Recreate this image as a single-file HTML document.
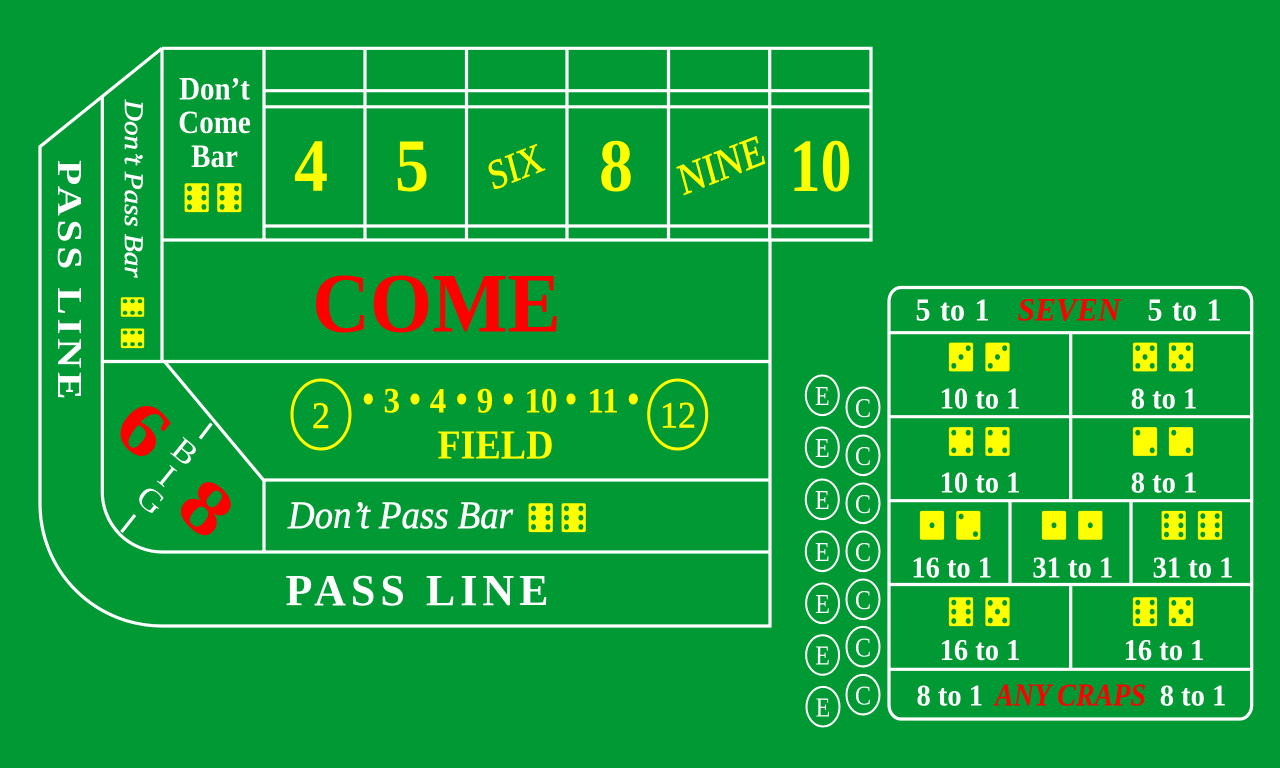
<!DOCTYPE html>
<html lang="en">
<head>
<meta charset="utf-8">
<title>Craps table layout</title>
<style>
html,body{margin:0;padding:0;background:#009933;width:1280px;height:768px;overflow:hidden}
svg{display:block}
text{font-family:"Liberation Serif",serif}
.w{fill:#fff}
.y{fill:#ff0}
.r{fill:#f00}
.b{font-weight:bold}
.i{font-style:italic}
.m{text-anchor:middle}
.sw{stroke:#fff;stroke-width:.5}
.sy{stroke:#ff0;stroke-width:.5}
.ln{fill:none;stroke:#fff;stroke-width:3.2}
.thin{fill:none;stroke:#fff;stroke-width:2}
.odds{font-weight:bold;font-size:28.5px;fill:#fff;text-anchor:middle}
.wide{font-size:30px;word-spacing:2px}
.pip{fill:#009933}
.face{fill:#ff0}
.ec{font-size:24px;fill:#fff;text-anchor:middle}
</style>
</head>
<body>
<svg xmlns="http://www.w3.org/2000/svg" width="1280" height="768" viewBox="0 0 1280 768">
<defs>
<g id="f1"><rect class="face" x="-12.1" y="-14.4" width="24.2" height="28.8" rx="2"/><ellipse class="pip" cx="0" cy="0" rx="2.5" ry="2.9"/></g>
<g id="f2"><rect class="face" x="-12.1" y="-14.4" width="24.2" height="28.8" rx="2"/><ellipse class="pip" cx="-7.2" cy="-8.8" rx="2.5" ry="2.9"/><ellipse class="pip" cx="7.2" cy="8.8" rx="2.5" ry="2.9"/></g>
<g id="f3"><rect class="face" x="-12.1" y="-14.4" width="24.2" height="28.8" rx="2"/><ellipse class="pip" cx="-7.2" cy="8.8" rx="2.5" ry="2.9"/><ellipse class="pip" cx="0" cy="0" rx="2.5" ry="2.9"/><ellipse class="pip" cx="7.2" cy="-8.8" rx="2.5" ry="2.9"/></g>
<g id="f4"><rect class="face" x="-12.1" y="-14.4" width="24.2" height="28.8" rx="2"/><ellipse class="pip" cx="-7.2" cy="-8.8" rx="2.5" ry="2.9"/><ellipse class="pip" cx="7.2" cy="-8.8" rx="2.5" ry="2.9"/><ellipse class="pip" cx="-7.2" cy="8.8" rx="2.5" ry="2.9"/><ellipse class="pip" cx="7.2" cy="8.8" rx="2.5" ry="2.9"/></g>
<g id="f5"><rect class="face" x="-12.1" y="-14.4" width="24.2" height="28.8" rx="2"/><ellipse class="pip" cx="-7.2" cy="-8.8" rx="2.5" ry="2.9"/><ellipse class="pip" cx="7.2" cy="-8.8" rx="2.5" ry="2.9"/><ellipse class="pip" cx="0" cy="0" rx="2.5" ry="2.9"/><ellipse class="pip" cx="-7.2" cy="8.8" rx="2.5" ry="2.9"/><ellipse class="pip" cx="7.2" cy="8.8" rx="2.5" ry="2.9"/></g>
<g id="f6"><rect class="face" x="-12.1" y="-14.4" width="24.2" height="28.8" rx="2"/><ellipse class="pip" cx="-7.2" cy="-9.2" rx="2.5" ry="2.9"/><ellipse class="pip" cx="7.2" cy="-9.2" rx="2.5" ry="2.9"/><ellipse class="pip" cx="-7.2" cy="0" rx="2.5" ry="2.9"/><ellipse class="pip" cx="7.2" cy="0" rx="2.5" ry="2.9"/><ellipse class="pip" cx="-7.2" cy="9.2" rx="2.5" ry="2.9"/><ellipse class="pip" cx="7.2" cy="9.2" rx="2.5" ry="2.9"/></g>
</defs>

<rect x="0" y="0" width="1280" height="768" fill="#009933"/>

<!-- main table lines -->
<g>
<path class="ln" d="M162 48.3H871V240H162M162 48.3V361M162 48.3L40 146.7V504A122 122 0 0 0 162 626H770V240"/>
<path class="ln" d="M102.3 97V492A60 60 0 0 0 162 552H770"/>
<path class="ln" d="M264 48.3V240M365 48.3V240M466.5 48.3V240M567 48.3V240M668.5 48.3V240M769.7 48.3V240"/>
<path class="ln" d="M264 90.7H871M264 106.8H871M264 226H871"/>
<path class="ln" d="M102.3 361.5H770M164.5 361.5L263.5 480H770M264 480V552"/>
<path class="ln" d="M211.5 423.5L200 438.5M135 515L121.5 532"/>
</g>

<!-- Pass line -->
<text class="w b" font-size="35" textLength="203" transform="translate(58,160) scale(1,1.18) rotate(90)">PASS LINE</text>
<text class="w b" font-size="44" textLength="263" transform="translate(285.5,605) scale(1,1)">PASS LINE</text>

<!-- Don't pass side -->
<text class="w i sw" font-size="26" textLength="160" lengthAdjust="spacingAndGlyphs" transform="translate(125,100) scale(1,1.11) rotate(90)">Don’t Pass Bar</text>
<use href="#f6" transform="translate(132.5,307) rotate(90) scale(.81)"/>
<use href="#f6" transform="translate(132.5,338.3) rotate(90) scale(.81)"/>

<!-- Don't come -->
<g>
<text class="w b m" font-size="29" transform="translate(214.5,99.5) scale(1,1.12)">Don’t</text>
<text class="w b m" font-size="29" transform="translate(214.5,133) scale(1,1.12)">Come</text>
<text class="w b m" font-size="29" transform="translate(214.5,167) scale(1,1.12)">Bar</text>
<use href="#f6" transform="translate(196.7,197.7)"/>
<use href="#f6" transform="translate(229.3,197.7)"/>
</g>

<!-- Point numbers -->
<g>
<text class="y b m" font-size="68" transform="translate(311,191) scale(1,1.1)">4</text>
<text class="y b m" font-size="68" transform="translate(412,191) scale(1,1.1)">5</text>
<text class="y m sy" font-size="35" transform="translate(519,180) scale(1,1.2) rotate(-18)">SIX</text>
<text class="y b m" font-size="68" transform="translate(616,191) scale(1,1.1)">8</text>
<text class="y m sy" font-size="37" transform="translate(725,179) scale(1,1.2) rotate(-18)">NINE</text>
<text class="y b m" font-size="68" textLength="62" lengthAdjust="spacingAndGlyphs" transform="translate(820.5,191) scale(1,1.1)">10</text>
</g>

<text class="r b m" font-size="80" transform="translate(436.5,331.5) scale(1,1.06)">COME</text>

<!-- Field -->
<g>
<ellipse cx="321" cy="414.5" rx="29" ry="34.5" fill="none" stroke="#ff0" stroke-width="3"/>
<text class="y m sy" font-size="36" transform="translate(321,428) scale(1,1.04)">2</text>
<ellipse cx="677.7" cy="414.5" rx="29" ry="34.5" fill="none" stroke="#ff0" stroke-width="3"/>
<text class="y m sy" font-size="36" transform="translate(678,427.5) scale(1,1.04)">12</text>
<ellipse class="y" cx="368.3" cy="399" rx="4.6" ry="5.5"/>
<ellipse class="y" cx="415" cy="399" rx="4.6" ry="5.5"/>
<ellipse class="y" cx="461.7" cy="399" rx="4.6" ry="5.5"/>
<ellipse class="y" cx="508.3" cy="399" rx="4.6" ry="5.5"/>
<ellipse class="y" cx="571" cy="399" rx="4.6" ry="5.5"/>
<ellipse class="y" cx="633.3" cy="399" rx="4.6" ry="5.5"/>
<text class="y b m" font-size="33" transform="translate(391.7,412.5) scale(1,1.08)">3</text>
<text class="y b m" font-size="33" transform="translate(438,412.5) scale(1,1.08)">4</text>
<text class="y b m" font-size="33" transform="translate(485,412.5) scale(1,1.08)">9</text>
<text class="y b m" font-size="33" transform="translate(541,412.5) scale(1,1.08)">10</text>
<text class="y b m" font-size="33" transform="translate(603,412.5) scale(1,1.08)">11</text>
<text class="y b m" font-size="38" transform="translate(495.5,458.5) scale(1,1.08)">FIELD</text>
</g>

<!-- Don't pass bar horizontal -->
<text class="w i sw" font-size="35" textLength="225" lengthAdjust="spacingAndGlyphs" transform="translate(288,528) scale(1,1.12)">Don’t Pass Bar</text>
<use href="#f6" transform="translate(540.7,517.7)"/>
<use href="#f6" transform="translate(573.7,517.7)"/>

<!-- Big 6 / 8 -->
<g>
<text class="r b m" font-size="76" transform="translate(144,428.5) scale(1,1.05) rotate(42) scale(1.2,.95) translate(0,26)">6</text>
<text class="r b m" font-size="76" transform="translate(207,507.5) scale(1,1.05) rotate(42) scale(1.2,.95) translate(0,26)">8</text>
<text class="w m" font-size="32" transform="translate(185,451.7) rotate(39) scale(1.1,1) translate(0,10.5)">B</text>
<text class="w m" font-size="32" transform="translate(167,476) rotate(39) scale(1.1,1) translate(0,10.5)">I</text>
<text class="w m" font-size="32" transform="translate(150.7,500) rotate(39) scale(1.1,1) translate(0,10.5)">G</text>
</g>

<!-- E and C circles -->
<g>
<ellipse class="thin" cx="822.3" cy="395.3" rx="16.5" ry="19.8"/><text class="ec" transform="translate(822.3,405) scale(1,1.15)">E</text>
<ellipse class="thin" cx="822.3" cy="447.3" rx="16.5" ry="19.8"/><text class="ec" transform="translate(822.3,457) scale(1,1.15)">E</text>
<ellipse class="thin" cx="822.3" cy="499.3" rx="16.5" ry="19.8"/><text class="ec" transform="translate(822.3,509) scale(1,1.15)">E</text>
<ellipse class="thin" cx="822.3" cy="551.3" rx="16.5" ry="19.8"/><text class="ec" transform="translate(822.3,561) scale(1,1.15)">E</text>
<ellipse class="thin" cx="822.6" cy="603.3" rx="16.5" ry="19.8"/><text class="ec" transform="translate(822.6,613) scale(1,1.15)">E</text>
<ellipse class="thin" cx="822.6" cy="655" rx="16.5" ry="19.8"/><text class="ec" transform="translate(822.6,664.7) scale(1,1.15)">E</text>
<ellipse class="thin" cx="823" cy="706.7" rx="16.5" ry="19.8"/><text class="ec" transform="translate(823,716.4) scale(1,1.15)">E</text>
</g>
<g>
<ellipse class="thin" cx="863" cy="407.3" rx="16.5" ry="19.8"/><text class="ec" transform="translate(863,417) scale(1,1.15)">C</text>
<ellipse class="thin" cx="863" cy="455.3" rx="16.5" ry="19.8"/><text class="ec" transform="translate(863,465) scale(1,1.15)">C</text>
<ellipse class="thin" cx="863" cy="503.3" rx="16.5" ry="19.8"/><text class="ec" transform="translate(863,513) scale(1,1.15)">C</text>
<ellipse class="thin" cx="863" cy="551.3" rx="16.5" ry="19.8"/><text class="ec" transform="translate(863,561) scale(1,1.15)">C</text>
<ellipse class="thin" cx="863" cy="599.3" rx="16.5" ry="19.8"/><text class="ec" transform="translate(863,609) scale(1,1.15)">C</text>
<ellipse class="thin" cx="863" cy="646.7" rx="16.5" ry="19.8"/><text class="ec" transform="translate(863,656.4) scale(1,1.15)">C</text>
<ellipse class="thin" cx="863" cy="694.7" rx="16.5" ry="19.8"/><text class="ec" transform="translate(863,704.4) scale(1,1.15)">C</text>
</g>

<!-- Proposition panel -->
<g>
<rect class="ln" x="889" y="287.5" width="362.7" height="431.5" rx="12" ry="14"/>
<path class="ln" d="M889 332.7H1251.7M889 416.7H1251.7M889 500.7H1251.7M889 584.5H1251.7M889 669.3H1251.7"/>
<path class="ln" d="M1070.7 332.7V500.7M1010 500.7V584.5M1131 500.7V584.5M1070.7 584.5V669.3"/>

<text class="odds wide" transform="translate(952.5,320.7) scale(1,1.04)">5 to 1</text>
<text class="r b i m" font-size="31" textLength="103" lengthAdjust="spacingAndGlyphs" transform="translate(1069,320.7) scale(1,1.05)">SEVEN</text>
<text class="odds wide" transform="translate(1184.5,320.7) scale(1,1.04)">5 to 1</text>

<use href="#f3" x="961" y="357"/>
<use href="#f3" x="997.5" y="357"/>
<text class="odds" transform="translate(980,408.3) scale(1,1.08)">10 to 1</text>
<use href="#f5" x="1145" y="357"/>
<use href="#f5" x="1181" y="357"/>
<text class="odds" transform="translate(1164,408.3) scale(1,1.08)">8 to 1</text>

<use href="#f4" x="961" y="441.5"/>
<use href="#f4" x="997.5" y="441.5"/>
<text class="odds" transform="translate(980,492.3) scale(1,1.08)">10 to 1</text>
<use href="#f2" x="1145" y="441.5"/>
<use href="#f2" x="1181" y="441.5"/>
<text class="odds" transform="translate(1164,492.3) scale(1,1.08)">8 to 1</text>

<use href="#f1" x="932" y="525.3"/>
<use href="#f2" x="968.3" y="525.3"/>
<text class="odds" transform="translate(951.7,577.3) scale(1,1.08)">16 to 1</text>
<use href="#f1" x="1054" y="525.3"/>
<use href="#f1" x="1090.3" y="525.3"/>
<text class="odds" transform="translate(1072.8,577.3) scale(1,1.08)">31 to 1</text>
<use href="#f6" x="1173.7" y="525.3"/>
<use href="#f6" x="1210" y="525.3"/>
<text class="odds" transform="translate(1193,577.3) scale(1,1.08)">31 to 1</text>

<use href="#f6" x="961" y="611.7"/>
<use href="#f5" x="997.5" y="611.7"/>
<text class="odds" transform="translate(980,660) scale(1,1.08)">16 to 1</text>
<use href="#f6" x="1145" y="611.7"/>
<use href="#f5" x="1181" y="611.7"/>
<text class="odds" transform="translate(1164,660) scale(1,1.08)">16 to 1</text>

<text class="odds" transform="translate(949.7,705.7) scale(1,1.08)">8 to 1</text>
<text class="r b i m" font-size="30" textLength="151" lengthAdjust="spacingAndGlyphs" transform="translate(1070.5,705.7) scale(1,1.05)">ANY CRAPS</text>
<text class="odds" transform="translate(1193,705.7) scale(1,1.08)">8 to 1</text>
</g>
</svg>
</body>
</html>
